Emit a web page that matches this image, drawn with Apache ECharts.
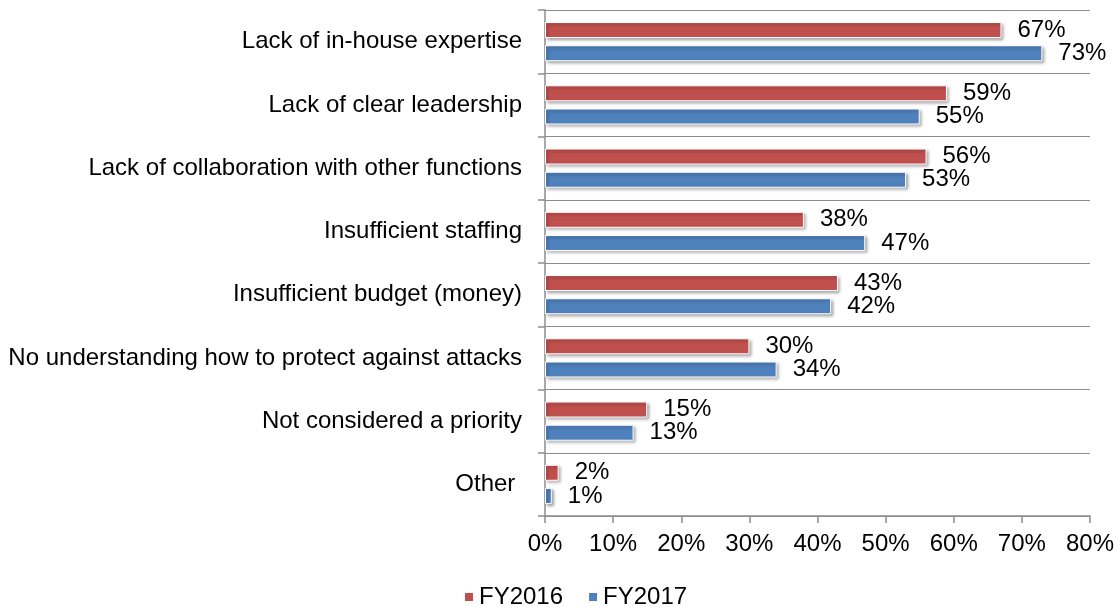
<!DOCTYPE html>
<html>
<head>
<meta charset="utf-8">
<script src="https://cdn.jsdelivr.net/npm/echarts@6/dist/echarts.min.js"></script>
<style>
  html, body { margin: 0; padding: 0; background: #fff; }
  #chart { width: 1119px; height: 607px; }
</style>
</head>
<body>
<div id="chart"></div>
<script>
// Reasons cited, top to bottom
const categories = [
  'Lack of in-house expertise',
  'Lack of clear leadership',
  'Lack of collaboration with other functions',
  'Insufficient staffing',
  'Insufficient budget (money)',
  'No understanding how to protect against attacks',
  'Not considered a priority',
  'Other '
];
const fy2016 = [67, 59, 56, 38, 43, 30, 15, 2];
const fy2017 = [73, 55, 53, 47, 42, 34, 13, 1];
const xTicks = [0, 10, 20, 30, 40, 50, 60, 70, 80];

const FONT = '"Liberation Sans", Arial, sans-serif';
const FONT_SIZE = 24;
const AXIS_GRAY = '#8c8c8c';

function barSeries(name, data, color) {
  return {
    name: name,
    type: 'bar',
    data: data,
    barWidth: 16,
    barGap: '45%',
    itemStyle: {
      color: color,
      borderColor: '#ffffff',
      borderWidth: 1,
      shadowColor: 'rgba(0,0,0,0.35)',
      shadowBlur: 3,
      shadowOffsetX: 2,
      shadowOffsetY: 2
    },
    label: {
      show: true,
      position: 'right',
      distance: 16,
      formatter: '{c}%',
      color: '#000',
      fontFamily: FONT,
      fontSize: FONT_SIZE
    }
  };
}

const chart = echarts.init(document.getElementById('chart'), null, { renderer: 'canvas' });
chart.setOption({
  animation: false,
  backgroundColor: '#ffffff',
  textStyle: { fontFamily: FONT },
  grid: { left: 545, right: 29, top: 10, bottom: 91, containLabel: false },
  legend: {
    top: 580,
    left: 458,
    itemWidth: 10,
    itemHeight: 10,
    itemGap: 24,
    icon: 'rect',
    textStyle: { fontFamily: FONT, fontSize: FONT_SIZE, color: '#000' },
    data: ['FY2016', 'FY2017']
  },
  xAxis: {
    type: 'value',
    min: xTicks[0],
    max: xTicks[xTicks.length - 1],
    interval: xTicks[1] - xTicks[0],
    axisLine: { show: true, lineStyle: { color: AXIS_GRAY, width: 1.5 } },
    axisTick: { show: true, length: 7, lineStyle: { color: AXIS_GRAY, width: 1.5 } },
    splitLine: { show: false },
    axisLabel: {
      formatter: '{value}%',
      color: '#000',
      fontFamily: FONT,
      fontSize: FONT_SIZE,
      margin: 16
    }
  },
  yAxis: {
    type: 'category',
    data: categories,
    inverse: true,
    axisLine: { show: true, lineStyle: { color: AXIS_GRAY, width: 1.5 } },
    axisTick: { show: true, length: 7, lineStyle: { color: AXIS_GRAY, width: 1.5 } },
    splitLine: { show: true, lineStyle: { color: AXIS_GRAY, width: 1.2 } },
    axisLabel: {
      color: '#000',
      fontFamily: FONT,
      fontSize: FONT_SIZE,
      margin: 23
    }
  },
  series: [
    barSeries('FY2016', fy2016, '#c0504d'),
    barSeries('FY2017', fy2017, '#4f81bd')
  ]
});
</script>
</body>
</html>
